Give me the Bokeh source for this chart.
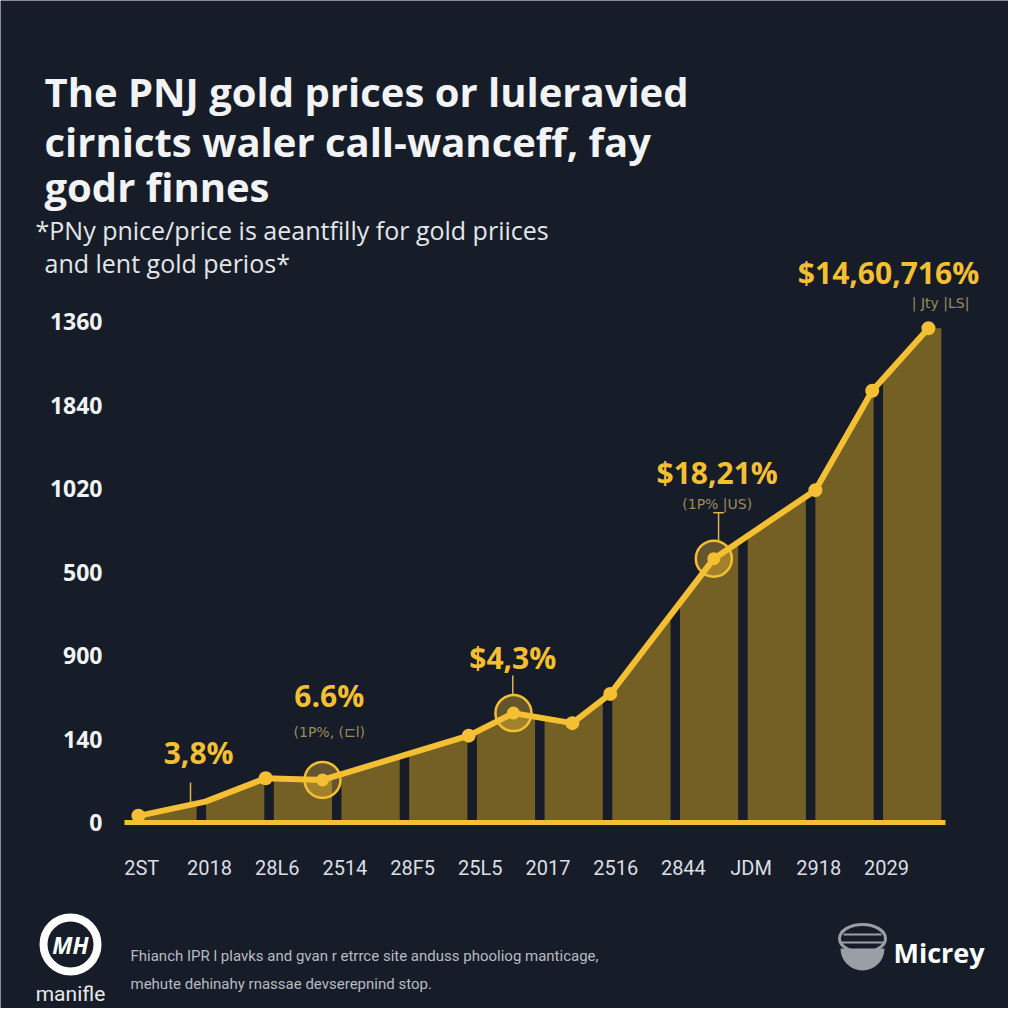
import numpy as np
from bokeh.plotting import figure
from bokeh.models import Range1d, FixedTicker, CustomJSTickFormatter
from bokeh.core.properties import value
from bokeh.embed import file_html
from bokeh.resources import INLINE

# ---------------- data ----------------
x_labels = ["2ST", "2018", "28L6", "2514", "28F5", "25L5", "2017", "2516", "2844", "JDM", "2918", "2029"]
y_tick_labels = ["0", "140", "900", "500", "1020", "1840", "1360"]
line_x = [-0.43, 0.56, 1.45, 2.29, 4.45, 5.11, 5.98, 6.54, 8.07, 9.57, 10.41, 11.24]
line_y = [0.08, 0.25, 0.53, 0.51, 1.04, 1.31, 1.19, 1.54, 3.16, 3.98, 5.17, 5.92]
dot_points = [0, 2, 4, 6, 7, 9, 10, 11]
halo_points = [3, 5, 8]
ann_values = ["3,8%", "6.6%", "$4,3%", "$18,21%", "$14,60,716%"]
ann_notes = ["", "(1P%, (\u228fl)", "", "(1P% |US)", "| Jty |LS|"]

title_lines = ["The PNJ gold prices or luleravied",
               "cirnicts waler call-wanceff, fay",
               "godr finnes"]
subtitle_lines = ["*PNy pnice/price is aeantfilly for gold priices",
                  "and lent gold perios*"]
footer_lines = ["Fhianch IPR l plavks and gvan r etrrce site anduss phooliog manticage,",
                "mehute dehinahy rnassae devserepnind stop."]

# ---------------- styles / layout ----------------
BG = "#161d28"
GOLD = "#f5bf33"
BAR = "#746025"
NOTE = "#9c8b5c"
WHITE = "#f2f3f5"
W = H = 1008
X0, XS = 167.0, 67.7      # pixel of category 0, pixels per category
Y0, YS = 822.0, 83.5      # pixel of value 0, pixels per y unit

ann_pos = [(0.46, 0.84), (2.39, 1.52), (5.10, 1.98), (8.12, 4.19), (10.65, 6.59)]
note_pos = [None, (2.39, 1.08), None, (8.12, 3.82), (11.42, 6.22)]
stems = [(0.34, 0.23, 0.48), (5.10, 1.52, 1.76), (8.14, 3.38, 3.71)]
bar_w = 0.86

p = figure(width=W, height=H,
           x_range=Range1d(-X0 / XS, (W - X0) / XS),
           y_range=Range1d((Y0 - H) / YS, Y0 / YS),
           output_backend="svg", toolbar_location=None, min_border=0,
           background_fill_color=BG, border_fill_color=BG, outline_line_color=None)
p.extra_x_ranges = {"px": Range1d(0, W)}
p.extra_y_ranges = {"px": Range1d(H, 0)}
p.grid.visible = False

# bars (tops follow the line)
xs, ys = [], []
for i in range(len(x_labels)):
    l, r = i - bar_w / 2, i + bar_w / 2
    tx = np.linspace(l, r, 24)
    ty = np.interp(tx, line_x, line_y)
    xs.append([l] + list(tx) + [r])
    ys.append([0] + list(ty) + [0])
p.patches(xs, ys, fill_color=BAR, line_color=None)

# stems
stem_col = "#d9b24a"
for sx, y0, y1 in stems:
    p.segment(x0=[sx], y0=[y0], x1=[sx], y1=[y1], line_color=stem_col, line_width=1.5)
p.segment(x0=[stems[2][0] - 0.08], y0=[stems[2][2]], x1=[stems[2][0] + 0.08], y1=[stems[2][2]],
          line_color=stem_col, line_width=1.5)

# line + markers
p.line(line_x, line_y, line_color=GOLD, line_width=6, line_join="round", line_cap="round")
lx = np.array(line_x); ly = np.array(line_y)
p.scatter(lx[dot_points], ly[dot_points], size=14, fill_color=GOLD, line_color=None)
p.scatter(lx[halo_points], ly[halo_points], size=36, fill_color=GOLD, fill_alpha=0.35,
          line_color=GOLD, line_width=2.5)
p.scatter(lx[halo_points], ly[halo_points], size=13, fill_color=GOLD, line_color=None)

# annotations
p.text(x=[a[0] for a in ann_pos], y=[a[1] for a in ann_pos], text=ann_values,
       text_align="center", text_baseline="middle", text_font=value("Open Sans"),
       text_font_style="bold", text_font_size="30px", text_color=GOLD)
nx = [q[0] for q in note_pos if q is not None]
ny = [q[1] for q in note_pos if q is not None]
nt = [t for q, t in zip(note_pos, ann_notes) if q is not None]
p.text(x=nx, y=ny, text=nt, text_align="center", text_baseline="middle",
       text_font=value("DejaVu Sans"), text_font_size="14px", text_color=NOTE)

# title / subtitle (pixel coordinates)
p.text(x=[44, 44, 44], y=[91, 141, 186], text=title_lines, x_range_name="px", y_range_name="px",
       text_align="left", text_baseline="alphabetic", text_font=value("Open Sans"),
       text_font_style="bold", text_font_size="40px", text_color=WHITE)
p.text(x=[35, 44], y=[229, 262], text=subtitle_lines, x_range_name="px", y_range_name="px",
       text_align="left", text_baseline="alphabetic", text_font=value("Open Sans"),
       text_font_size="25px", text_color="#e4e6ea")

# axes (drawn at fixed locations inside the canvas)
p.xaxis.fixed_location = 0
p.xaxis.bounds = (-bar_w / 2 - 0.205, len(x_labels) - 1 + bar_w / 2 + 0.06)
p.xaxis.ticker = FixedTicker(ticks=[i - 0.38 for i in range(len(x_labels))])
p.xaxis.formatter = CustomJSTickFormatter(args=dict(labels=x_labels),
                                          code="const i = Math.round(tick + 0.38); return labels[i] || '';")
p.xaxis.axis_line_color = GOLD
p.xaxis.axis_line_width = 5
p.xaxis.major_tick_line_color = None
p.xaxis.minor_tick_line_color = None
p.xaxis.major_label_standoff = 27
p.xaxis.major_label_text_font = "Roboto"
p.xaxis.major_label_text_font_size = "20px"
p.xaxis.major_label_text_color = "#dcdfe4"

p.yaxis.fixed_location = -bar_w / 2 - 0.205
p.yaxis.bounds = (0, len(y_tick_labels) - 1)
p.yaxis.ticker = FixedTicker(ticks=list(range(len(y_tick_labels))))
p.yaxis.formatter = CustomJSTickFormatter(args=dict(labels=y_tick_labels),
                                          code="return labels[Math.round(tick)] || '';")
p.yaxis.axis_line_color = None
p.yaxis.major_tick_line_color = None
p.yaxis.minor_tick_line_color = None
p.yaxis.major_label_standoff = 16
p.yaxis.major_label_text_font = "Open Sans"
p.yaxis.major_label_text_font_style = "bold"
p.yaxis.major_label_text_font_size = "23px"
p.yaxis.major_label_text_color = WHITE

# ---------------- footer (pixel coordinates) ----------------
kw = dict(x_range_name="px", y_range_name="px")
p.circle(x=[70], y=[944], radius=27, fill_color=None, line_color="white", line_width=8, **kw)
p.text(x=[70], y=[944], text=["MH"], text_align="center", text_baseline="middle",
       text_font=value("Open Sans"), text_font_size="23px", text_font_style="bold italic",
       text_color="white", **kw)
p.text(x=[70], y=[993], text=["manifle"], text_align="center", text_baseline="middle",
       text_font=value("Roboto"), text_font_size="21px", text_color="#e8e8e8", **kw)
p.text(x=[130, 130], y=[955, 983], text=footer_lines, text_align="left", text_baseline="middle",
       text_font=value("Roboto"), text_font_size="15px", text_color="#b7bbc2", **kw)
ICON = "#9a9ea6"
p.ellipse(x=[862], y=[938], width=46, height=28, fill_color=None, line_color=ICON, line_width=3, **kw)
p.segment(x0=[843, 841], y0=[934, 942], x1=[881, 883], y1=[934, 942], line_color=ICON, line_width=2, **kw)
p.wedge(x=[862], y=[948], radius=22, start_angle=np.pi, end_angle=2 * np.pi,
        fill_color=ICON, line_color=None, **kw)
p.text(x=[893], y=[952], text=["Micrey"], text_align="left", text_baseline="middle",
       text_font=value("Open Sans"), text_font_size="27px", text_font_style="bold",
       text_color="white", **kw)

open("out.html", "w").write(file_html(p, INLINE))
